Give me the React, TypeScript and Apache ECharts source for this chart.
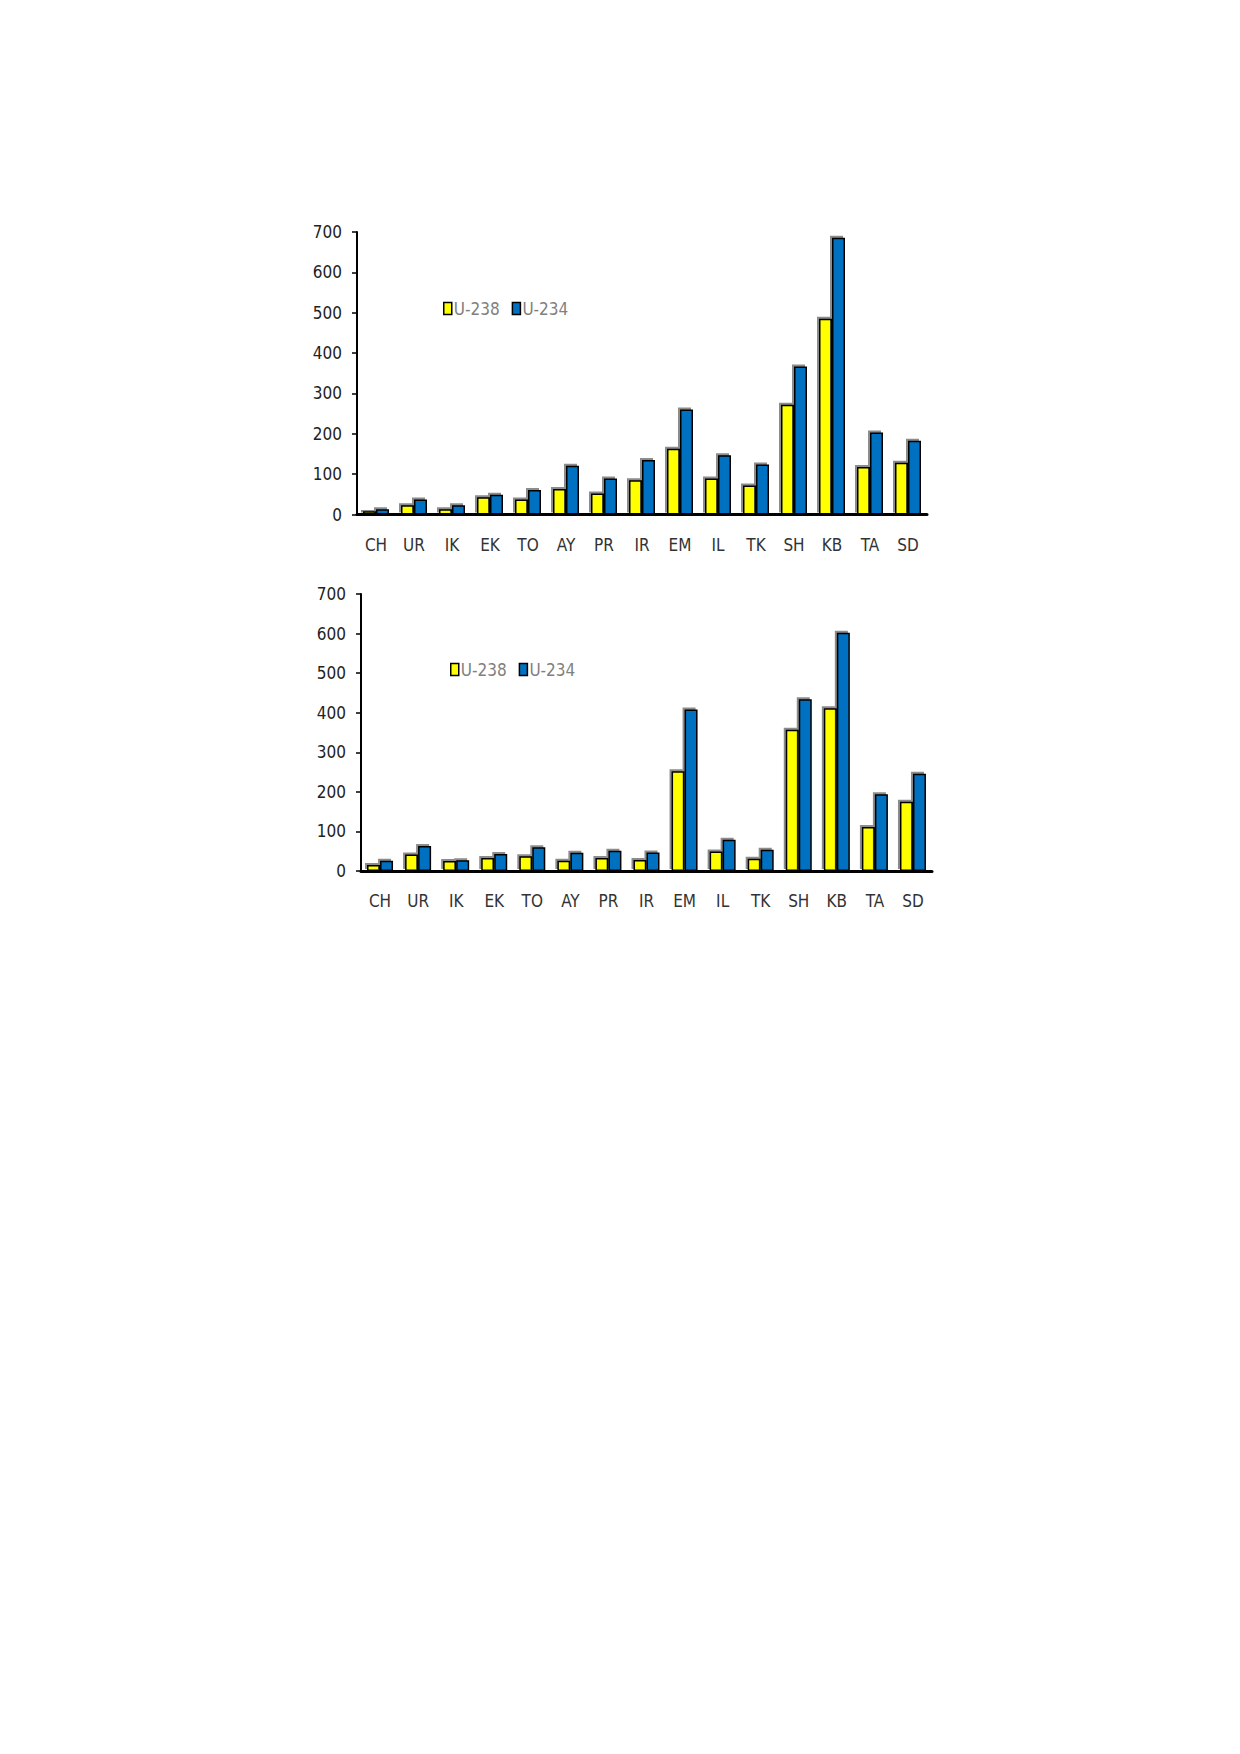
import React, { useEffect, useRef } from "react";
import * as echarts from "echarts";

const categories = ["CH", "UR", "IK", "EK", "TO", "AY", "PR", "IR", "EM", "IL", "TK", "SH", "KB", "TA", "SD"];
const yTicks = [0, 100, 200, 300, 400, 500, 600, 700];
const topU238 = [8, 23, 13, 43, 37, 63, 52, 85, 163, 89, 72, 272, 485, 118, 128];
const topU234 = [13, 37, 23, 49, 61, 121, 89, 135, 260, 147, 124, 367, 686, 203, 183];
const botU238 = [15, 42, 25, 33, 37, 26, 33, 28, 252, 49, 31, 357, 411, 111, 175];
const botU234 = [26, 63, 27, 43, 60, 46, 51, 47, 408, 79, 54, 434, 602, 194, 246];

const FONT = "'DejaVu Sans Condensed', 'Liberation Sans Narrow', 'Liberation Sans', sans-serif";
const YELLOW = "#FFFF00";
const BLUE = "#0070C0";

function barStyle(color: string) {
  return {
    color,
    borderColor: "#000",
    borderWidth: 1.5,
    shadowColor: "rgba(0,0,0,0.45)",
    shadowBlur: 0,
    shadowOffsetX: -2,
    shadowOffsetY: -2,
  };
}

export default function App() {
  const ref = useRef<HTMLDivElement>(null);
  useEffect(() => {
    if (!ref.current) return;
    const chart = echarts.init(ref.current, undefined, { renderer: "svg" });
    const xAxisBase = (gridIndex: number, margin: number) => ({
      type: "category" as const,
      gridIndex,
      data: categories,
      axisLine: { show: true, lineStyle: { color: "#000", width: 3 } },
      axisTick: { show: false },
      axisLabel: { color: "#333", fontSize: 17, fontFamily: FONT, margin, interval: 0 },
    });
    const yAxisBase = (gridIndex: number) => ({
      type: "value" as const,
      gridIndex,
      min: yTicks[0],
      max: yTicks[yTicks.length - 1],
      interval: 100,
      splitLine: { show: false },
      axisLine: { show: true, lineStyle: { color: "#000", width: 2 } },
      axisTick: { show: true, inside: false, length: 5, lineStyle: { color: "#000", width: 1.5 } },
      axisLabel: { color: "#222", fontSize: 17, fontFamily: FONT, margin: 15 },
    });
    const legendBase = (left: number, top: number) => ({
      left,
      top,
      orient: "horizontal" as const,
      icon: "rect",
      itemWidth: 8,
      itemHeight: 12,
      itemGap: 12,
      selectedMode: false,
      data: ["U-238", "U-234"],
      textStyle: { color: "#808080", fontSize: 17, fontFamily: FONT, padding: [0, 0, 0, -3] },
      itemStyle: { borderColor: "#000", borderWidth: 1.5 },
    });
    chart.setOption({
      animation: false,
      backgroundColor: "#fff",
      grid: [
        { left: 357, top: 232, width: 570, height: 282.5, containLabel: false },
        { left: 361, top: 594, width: 571, height: 277, containLabel: false },
      ],
      legend: [legendBase(438, 295), legendBase(445, 656)],
      xAxis: [xAxisBase(0, 22), xAxisBase(1, 21)],
      yAxis: [yAxisBase(0), yAxisBase(1)],
      series: [
        { name: "U-238", type: "bar", xAxisIndex: 0, yAxisIndex: 0, data: topU238, barWidth: 13, barGap: "0%", itemStyle: barStyle(YELLOW) },
        { name: "U-234", type: "bar", xAxisIndex: 0, yAxisIndex: 0, data: topU234, barWidth: 13, barGap: "0%", itemStyle: barStyle(BLUE) },
        { name: "U-238", type: "bar", xAxisIndex: 1, yAxisIndex: 1, data: botU238, barWidth: 13, barGap: "0%", itemStyle: barStyle(YELLOW) },
        { name: "U-234", type: "bar", xAxisIndex: 1, yAxisIndex: 1, data: botU234, barWidth: 13, barGap: "0%", itemStyle: barStyle(BLUE) },
      ],
    });
    return () => chart.dispose();
  }, []);
  return (
    <div
      ref={ref}
      style={{ position: "absolute", left: 0, top: 0, width: 1240, height: 1754, background: "#fff" }}
    />
  );
}
